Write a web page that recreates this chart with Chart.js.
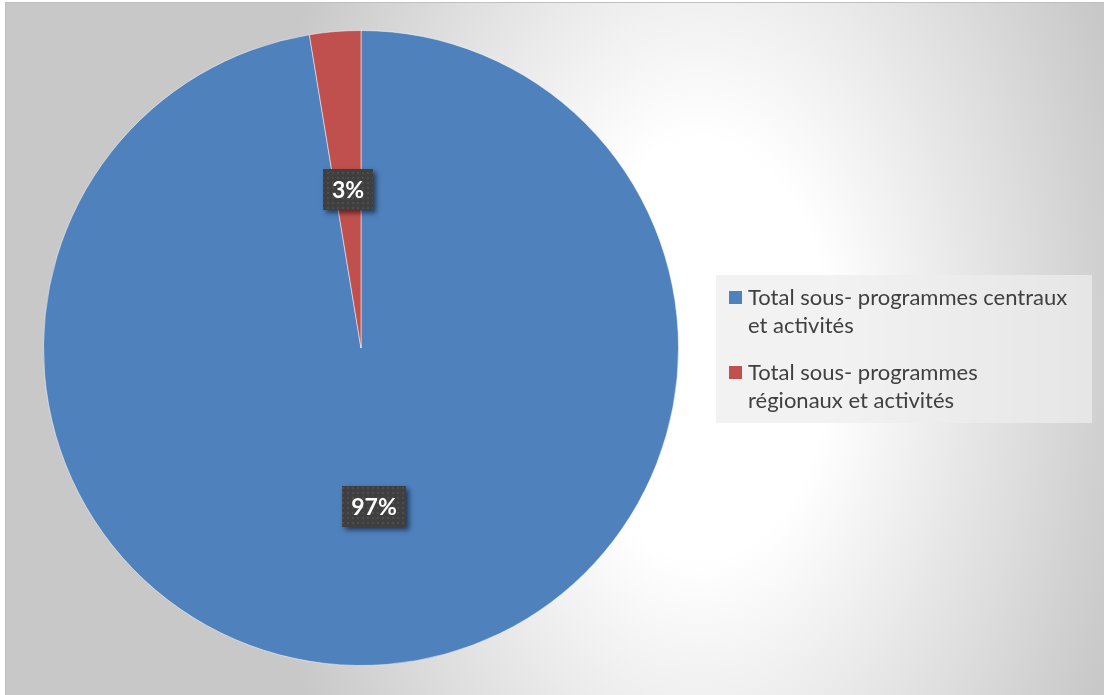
<!DOCTYPE html>
<html>
<head>
<meta charset="utf-8">
<script src="https://cdn.jsdelivr.net/npm/chart.js@4/dist/chart.umd.min.js"></script>
<style>
  html, body { margin: 0; padding: 0; background: #ffffff; }
  #wrap { position: relative; width: 1104px; height: 695px; }
</style>
</head>
<body>
<div id="wrap"><canvas id="chart" width="1104" height="695"></canvas></div>
<script>
// Budget split between central and regional sub-programmes (percent)
const categories = [
  ['Total sous- programmes centraux', 'et activités'],
  ['Total sous- programmes', 'régionaux et activités']
];
const shares = [97.4, 2.6];
const sliceColors = ['#4F81BD', '#C0504D'];

// Chart-area backdrop: light radial wash with a thin grey frame
const backdrop = {
  id: 'backdrop',
  beforeDraw(chart) {
    const ctx = chart.ctx;
    const W = chart.width, H = chart.height;
    ctx.save();
    ctx.fillStyle = '#ffffff';
    ctx.fillRect(0, 0, W, H);
    ctx.save();
    ctx.beginPath();
    ctx.rect(5, 2, W - 5, H - 2);
    ctx.clip();
    ctx.translate(700, 350);
    ctx.scale(1, 1.6);
    const g = ctx.createRadialGradient(0, 0, 0, 0, 0, 450);
    g.addColorStop(0, '#ffffff');
    g.addColorStop(0.29, '#ffffff');
    g.addColorStop(1, '#c8c8c8');
    ctx.fillStyle = g;
    ctx.fillRect(-800, -300, 1600, 600);
    ctx.restore();
    ctx.strokeStyle = '#c0c0c0';
    ctx.lineWidth = 1;
    ctx.strokeRect(5.5, 2.5, W - 5, H);
    ctx.restore();
  }
};

// Dark dotted boxes holding the percentage of each slice
function dotPattern(ctx) {
  const c = document.createElement('canvas');
  c.width = 5; c.height = 5;
  const p = c.getContext('2d');
  p.fillStyle = '#3f3f3f';
  p.fillRect(0, 0, 5, 5);
  p.fillStyle = '#4d4d4d';
  p.fillRect(2, 2, 2, 2);
  return ctx.createPattern(c, 'repeat');
}

const valueBoxes = {
  id: 'valueBoxes',
  afterDatasetsDraw(chart) {
    const ctx = chart.ctx;
    const meta = chart.getDatasetMeta(0);
    const data = chart.data.datasets[0].data;
    const total = data.reduce((a, b) => a + b, 0);
    const pattern = dotPattern(ctx);
    ctx.save();
    ctx.font = 'bold 23px Lato';
    meta.data.forEach((arc, i) => {
      const pos = arc.tooltipPosition();
      const txt = Math.round(data[i] / total * 100) + '%';
      const tw = ctx.measureText(txt).width;
      const bw = Math.round(tw + 18), bh = 41;
      const bx = Math.round(pos.x - bw / 2), by = Math.round(pos.y - bh / 2);
      ctx.save();
      ctx.shadowColor = 'rgba(0,0,0,0.55)';
      ctx.shadowBlur = 5;
      ctx.shadowOffsetX = 3;
      ctx.shadowOffsetY = 3;
      ctx.fillStyle = '#3f3f3f';
      ctx.fillRect(bx, by, bw, bh);
      ctx.restore();
      ctx.fillStyle = pattern;
      ctx.fillRect(bx, by, bw, bh);
      ctx.fillStyle = '#ffffff';
      ctx.textAlign = 'center';
      ctx.textBaseline = 'middle';
      ctx.fillText(txt, bx + bw / 2, by + bh / 2 + 1);
    });
    ctx.restore();
  }
};

// Legend panel on the right
const sideLegend = {
  id: 'sideLegend',
  afterDraw(chart) {
    const ctx = chart.ctx;
    ctx.save();
    ctx.fillStyle = 'rgba(237,237,237,0.73)';
    ctx.fillRect(716, 275, 376, 148);
    ctx.font = '22px Lato';
    ctx.textBaseline = 'alphabetic';
    ctx.textAlign = 'left';
    const tops = [305, 380];
    categories.forEach((lines, i) => {
      ctx.fillStyle = sliceColors[i];
      ctx.fillRect(729, tops[i] - 14, 13, 13);
      ctx.fillStyle = '#404040';
      lines.forEach((ln, j) => ctx.fillText(ln, 748, tops[i] + j * 28));
    });
    ctx.restore();
  }
};

new Chart(document.getElementById('chart'), {
  type: 'pie',
  data: {
    labels: categories,
    datasets: [{
      data: shares,
      backgroundColor: sliceColors,
      borderColor: 'rgba(255,255,255,0.5)',
      borderWidth: 1
    }]
  },
  options: {
    responsive: false,
    animation: false,
    layout: { padding: { left: 43, right: 425, top: 30, bottom: 29 } },
    plugins: {
      legend: { display: false },
      tooltip: { enabled: false }
    }
  },
  plugins: [backdrop, valueBoxes, sideLegend]
});
</script>
</body>
</html>
